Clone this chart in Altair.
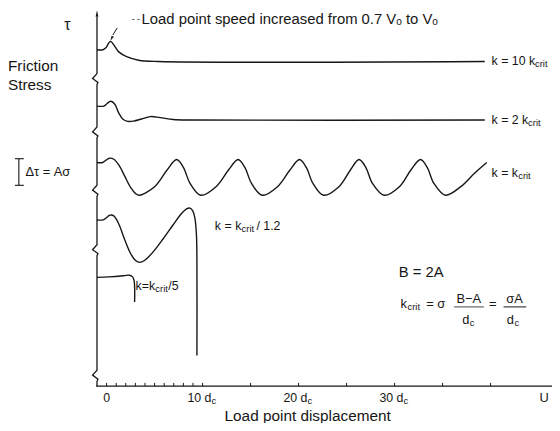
import altair as alt
import pandas as pd

# ---------------- data (x in units of d_c, y in arbitrary stress units) ----------------
# k = 10 k_crit
d_k10 = [-1.0, -0.38, -0.07, 0.24, 0.44, 0.75, 1.27, 2.09, 3.33, 5.38, 39.4]
tau_k10 = [125.3, 125.3, 126.0, 127.9, 128.4, 127.1, 124.5, 122.7, 121.4, 120.9, 120.9]

# k = 2 k_crit
d_k2 = [-1.0, -0.28, 0.03, 0.44, 0.86, 1.27, 1.68, 2.19, 2.81, 3.64, 4.56, 5.59, 6.94, 9.0, 39.4]
tau_k2 = [104.3, 104.3, 105.2, 106.1, 105.0, 101.7, 99.5, 98.6, 98.7, 99.5, 100.4, 100.0, 99.3, 99.1, 99.1]

# k = k_crit
d_k1 = [-1.0, -0.4, -0.05, 0.3, 0.75, 1.3, 1.9, 2.5, 3.0, 3.4,
        5.0, 6.3, 7.3, 8.0, 8.7, 9.8,
        11.4, 12.7, 13.7, 14.4, 15.1, 16.2,
        17.8, 19.1, 20.1, 20.8, 21.5, 22.6,
        24.2, 25.4, 26.3, 27.0, 27.7, 28.9,
        30.5, 31.7, 32.7, 33.4, 34.1, 35.3,
        36.9, 38.3, 39.6]
tau_k1 = [83.3, 83.3, 84.2, 84.9, 84.5, 82.2, 78.1, 74.0, 71.8, 71.1,
          74.3, 80.5, 84.4, 81.5, 75.5, 71.1,
          74.3, 80.5, 84.4, 81.5, 75.5, 71.1,
          74.3, 80.5, 84.4, 81.5, 75.5, 71.1,
          74.3, 80.5, 84.4, 81.5, 75.5, 71.1,
          74.3, 80.5, 84.4, 81.5, 75.5, 71.1,
          74.3, 79.2, 83.3]

# k = k_crit / 1.2
d_k12 = [-1.0, -0.38, -0.07, 0.34, 0.75, 1.27, 1.89, 2.50, 3.02, 3.43, 3.95, 4.87,
         5.90, 6.94, 7.76, 8.37, 8.68, 8.99, 9.20, 9.36, 9.41, 9.41]
tau_k12 = [61.9, 61.9, 62.6, 63.7, 63.4, 60.4, 54.5, 49.4, 46.8, 46.1, 46.8, 50.1,
           54.9, 60.1, 64.1, 66.1, 66.3, 65.2, 62.6, 56.4, 47.2, 11.4]

# k = k_crit / 5
d_k5 = [-1.0, 0.24, 1.78, 2.40, 2.71, 2.86, 2.92, 2.92]
tau_k5 = [40.5, 40.7, 41.1, 41.3, 40.7, 39.4, 37.2, 31.3]

# stress axis with break marks
axis_d = [-1.0, -1.0, -0.9, -1.46, -1.0, -1.0, -0.9, -1.46, -1.0, -1.0, -0.9, -1.46,
          -1.0, -1.0, -0.9, -1.46, -1.0, -1.0, -0.9, -1.46, -1.0, -1.0]
axis_tau = [0, 1.8, 2.6, 4.1, 5.9, 48.6, 49.4, 50.8, 52.7, 70.7, 71.5, 73.0,
            74.8, 92.5, 93.2, 94.7, 96.5, 112.4, 113.1, 114.6, 116.4, 137.5]

# displacement ticks and labels
tick_values = [0, 1, 2, 3, 4, 5, 6, 7, 8, 9, 10, 15, 20, 25, 30, 35, 40]
label_values = [10, 20, 30]
label_texts = ["10 d", "20 d", "30 d"]

# texts
note_text = "Load point speed increased from 0.7 Vₒ to Vₒ"
curve_labels = ["k = 10 k", "k = 2 k", "k = k"]
curve_label_tau = [120.9, 99.1, 79.2]
curve_label_subdx = [44, 37, 27]

INK = "#161616"
FONT = "Liberation Sans"
XS = alt.Scale(domain=[-1.1, 46.4], nice=False, zero=False)
YS = alt.Scale(domain=[0, 140], nice=False, zero=False)


def X(f="d"):
    return alt.X(f"{f}:Q", scale=XS, axis=None)


def Y(f="tau"):
    return alt.Y(f"{f}:Q", scale=YS, axis=None)


def path(d, tau, interp="catmull-rom", width=1.4):
    df = pd.DataFrame({"d": d, "tau": tau, "i": list(range(len(d)))})
    return alt.Chart(df).mark_line(color=INK, strokeWidth=width, interpolate=interp).encode(
        x=X(), y=Y(), order=alt.Order("i:Q"))


def seg(d1, t1, d2, t2, width=1.2):
    df = pd.DataFrame({"d": [d1], "tau": [t1], "d2": [d2], "tau2": [t2]})
    return alt.Chart(df).mark_rule(color=INK, strokeWidth=width).encode(
        x=X(), y=Y(), x2=alt.X2("d2:Q"), y2=alt.Y2("tau2:Q"))


def label(text, d, tau, size=12.5, align="left", dx=0, dy=0, font=FONT):
    df = pd.DataFrame({"d": [d], "tau": [tau], "t": [text]})
    return alt.Chart(df).mark_text(font=font, fontSize=size, align=align, baseline="middle",
                                   dx=dx, dy=dy, color=INK).encode(x=X(), y=Y(), text="t:N")


layers = []
# curves
for d, t in [(d_k10, tau_k10), (d_k2, tau_k2), (d_k1, tau_k1), (d_k12, tau_k12), (d_k5, tau_k5)]:
    layers.append(path(d, t))

# stress axis + arrow
layers.append(path(axis_d, axis_tau, interp="linear", width=1.3))
arrow_df = pd.DataFrame({"d": [-1.0], "tau": [138.5]})
layers.append(alt.Chart(arrow_df).mark_point(shape="M0,-1L0.35,0.6L-0.35,0.6Z", filled=True,
                                             size=64, color=INK, opacity=1).encode(x=X(), y=Y()))

# displacement axis
layers.append(seg(-1.1, 0, 46.4, 0, width=1.3))
ticks_df = pd.DataFrame({"d": tick_values, "tau": [0] * len(tick_values), "tau2": [1.2] * len(tick_values)})
layers.append(alt.Chart(ticks_df).mark_rule(color=INK, strokeWidth=1).encode(
    x=X(), y=Y(), y2=alt.Y2("tau2:Q")))
layers.append(label("0", 0, -4.4, size=12.5, align="center"))
lab_df = pd.DataFrame({"d": label_values, "tau": [-4.4] * 3, "t": label_texts, "c": ["c"] * 3})
layers.append(alt.Chart(lab_df).mark_text(font=FONT, fontSize=12.5, align="right", baseline="middle",
                                          dx=9, color=INK).encode(x=X(), y=Y(), text="t:N"))
layers.append(alt.Chart(lab_df).mark_text(font=FONT, fontSize=9.5, align="left", baseline="middle",
                                          dx=9, dy=3, color=INK).encode(x=X(), y=Y(), text="c:N"))
layers.append(label("U", 45.1, -4.4, size=13))
layers.append(label("Load point displacement", 12.29, -11.2, size=15.5))

# left side texts
layers.append(label("τ", -4.09, 134.5, size=16, align="center"))
layers.append(label("Friction", -10.27, 119.4, size=15.5))
layers.append(label("Stress", -10.27, 112.0, size=15.5))
layers.append(seg(-9.14, 74.8, -9.14, 84.7, width=1.1))
layers.append(seg(-9.55, 84.7, -8.62, 84.7, width=1.1))
layers.append(seg(-9.55, 74.8, -8.62, 74.8, width=1.1))
layers.append(label("Δτ = Aσ", -8.45, 79.6, size=13))

# annotation at top
layers.append(label("- -", 2.61, 136.9, size=9))
layers.append(label(note_text, 3.64, 136.8, size=15))
layers.append(seg(1.11, 133.4, 0.65, 130.8, width=1))
head_df = pd.DataFrame({"d": [0.55], "tau": [129.7]})
layers.append(alt.Chart(head_df).mark_point(shape="M0,-1L0.4,0.6L-0.4,0.6Z", filled=True, size=40,
                                            angle=208, color=INK, opacity=1).encode(x=X(), y=Y()))

# curve labels at right
for txt, t, sdx in zip(curve_labels, curve_label_tau, curve_label_subdx):
    layers.append(label(txt, 40.1, t, size=12.5))
    layers.append(label("crit", 40.1, t, size=9.5, dx=sdx, dy=3))

layers.append(label("k = k", 11.28, 59.7, size=12.5))
layers.append(label("crit", 11.28, 59.7, size=9.5, dx=27, dy=3))
layers.append(label("/ 1.2", 11.28, 59.7, size=12.5, dx=42))

layers.append(label("k=k", 3.02, 37.2, size=12.5))
layers.append(label("crit", 3.02, 37.2, size=9.5, dx=20, dy=3))
layers.append(label("/5", 3.02, 37.2, size=12.5, dx=33))

# equations
layers.append(label("B = 2A", 30.43, 42.4, size=15))
layers.append(label("k", 30.63, 30.6, size=13))
layers.append(label("crit", 30.63, 30.6, size=9.5, dx=7, dy=3))
layers.append(label("= σ", 33.29, 30.6, size=13))
layers.append(label("B−A", 37.74, 32.4, size=13, align="center"))
layers.append(seg(36.2, 29.5, 39.3, 29.5, width=0.8))
layers.append(label("d", 37.43, 24.7, size=13, align="center"))
layers.append(label("c", 37.43, 24.7, size=9.5, dx=4, dy=3))
layers.append(label("=", 40.22, 30.6, size=13, align="center"))
layers.append(label("σA", 42.49, 32.4, size=13, align="center"))
layers.append(seg(41.35, 29.5, 43.72, 29.5, width=1))
layers.append(label("d", 42.07, 24.7, size=13, align="center"))
layers.append(label("c", 42.07, 24.7, size=9.5, dx=4, dy=3))

chart = alt.layer(*layers).properties(
    width=461, height=380, autosize="none",
    padding={"left": 89, "top": 0, "right": 0, "bottom": 35},
    background="white",
).configure_view(stroke=None)

chart.save("out.html", embed_options={"renderer": "svg", "actions": False})
